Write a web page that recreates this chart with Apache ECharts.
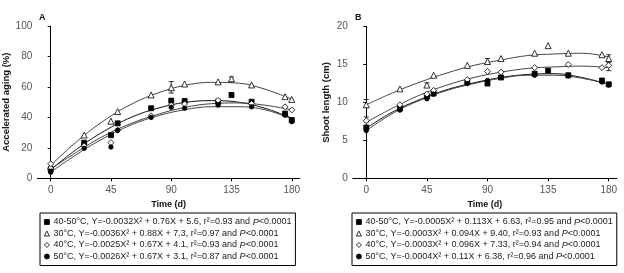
<!DOCTYPE html>
<html><head><meta charset="utf-8">
<script src="https://cdn.jsdelivr.net/npm/echarts@6/dist/echarts.min.js"></script>
<style>html,body{margin:0;padding:0;background:#fff}#c{width:624px;height:273px}</style>
</head><body><div id="c"></div>
<script>
// ---- data ----
const days = [0, 25, 45, 50, 75, 90, 100, 125, 135, 150, 175, 180];
const xTicks = [0, 45, 90, 135, 180];
const fitX = [0, 20, 40, 60, 80, 100, 120, 140, 160, 180];

// Panel A: Accelerated aging (%)
const aSquare   = [6, 23.4, 28.3, 36.1, 46, 51, 50.8, 50.3, 54.7, 50.3, 42.5, 38.3];
const aTriangle = [8, 28.4, 37.5, 43.8, 54.7, 59.5, 61.9, 63.3, 65.3, 61.3, 53.6, 51.8];
const aDiamond  = [9.5, 21.2, 23.4, 31.6, 41, 48, 48.8, 51.2, null, 49, 46.9, 44.9];
const aCircle   = [4, 19.7, 20.5, 31.5, 40, 46.6, 46, 48.1, null, 46.9, 41.4, 37.2];
const aFitSquare   = [5.6, 19.5, 31, 40, 46, 49.8, 51, 50, 46, 39.5];
const aFitTriangle = [8.5, 24.5, 38, 48.5, 56, 61, 63, 62.5, 58.5, 52];
const aFitDiamond  = [6, 17.5, 28, 36, 42, 46.5, 49, 49.5, 48, 45];
const aFitCircle   = [4, 16, 26.5, 35, 41, 45, 47, 47, 45, 39];
const aErrDay  = [90, 135, 135];
const aErrLow  = [56, 63.5, 53.2];
const aErrHigh = [63.5, 66.5, 56.2];
const aLegend = [
  '40-50°C, Y=-0.0032X² + 0.76X + 5.6, r²=0.93 and {i|P}<0.0001',
  '30°C, Y=-0.0036X² + 0.88X + 7.3, r²=0.97 and {i|P}<0.0001',
  '40°C, Y=-0.0025X² + 0.67X + 4.1, r²=0.93 and {i|P}<0.0001',
  '50°C, Y=-0.0026X² + 0.67X + 3.1, r²=0.87 and {i|P}<0.0001'
];

// Panel B: Shoot length (cm)
const bSquare   = [6.7, 9.2, 10.8, 11.2, 12.7, 12.5, 13.3, 13.8, 14.2, 13.6, 12.9, 12.4];
const bTriangle = [9.7, 11.8, 12.3, 13.6, 14.9, 15.4, 15.8, 16.5, 17.5, 16.5, 16.3, 15.8];
const bDiamond  = [7.6, 9.7, 11.1, 11.6, 13.0, 14.1, 14.0, 14.6, null, 15.0, 14.6, 14.9];
const bCircle   = [6.3, 9.0, 10.5, 11.1, 12.5, 12.9, 13.3, 13.6, null, 13.5, 12.7, 12.3];
const bFitSquare   = [6.6, 8.8, 10.4, 11.7, 12.6, 13.3, 13.7, 13.8, 13.3, 12.4];
const bFitTriangle = [9.7, 11.3, 12.7, 13.9, 14.9, 15.6, 16.2, 16.4, 16.5, 16.0];
const bFitDiamond  = [7.4, 9.3, 11.0, 12.3, 13.3, 14.0, 14.5, 14.7, 14.8, 14.6];
const bFitCircle   = [6.3, 8.6, 10.3, 11.6, 12.5, 13.2, 13.6, 13.6, 13.2, 12.4];
const bErrDay  = [0, 0, 45, 90, 180, 180];
const bErrLow  = [9.4, 7.4, 12.0, 15.1, 14.2, 15.5];
const bErrHigh = [10.4, 8.1, 12.6, 15.8, 15.3, 16.3];
const bLegend = [
  '40-50°C, Y=-0.0005X² + 0.113X + 6.63, r²=0.95 and {i|P}<0.0001',
  '30°C, Y=-0.0003X² + 0.094X + 9.40, r²=0.93 and {i|P}<0.0001',
  '40°C, Y=-0.0003X² + 0.096X + 7.33, r²=0.94 and {i|P}<0.0001',
  '50°C, Y=-0.0004X² + 0.11X + 6.38, r²=0.96 and {i|P}<0.0001'
];

// ---- build ----
const FONT = 'Liberation Sans, Arial, sans-serif';
const pair = (xs, ys) => xs.map((x, i) => [x, ys[i]]);
const symDefs = [
  {sym: 'rect', size: 5, fill: '#000'},
  {sym: 'triangle', size: 6, fill: '#fff'},
  {sym: 'diamond', size: 6, fill: '#fff'},
  {sym: 'circle', size: 4.5, fill: '#000'}
];

function panelSeries(p, idx, pts, fits, errD, errL, errH) {
  const s = [];
  fits.forEach((f, k) => s.push({
    type: 'line', xAxisIndex: idx, yAxisIndex: idx, data: pair(fitX, f),
    smooth: 0.4, symbol: 'none', silent: true, z: 2,
    lineStyle: {color: k === 0 ? '#111' : '#444', width: 1}
  }));
  s.push({
    type: 'custom', xAxisIndex: idx, yAxisIndex: idx, z: 3, silent: true,
    data: errD.map((d, i) => [d, errL[i], errH[i]]),
    renderItem: function (params, api) {
      const lo = api.coord([api.value(0), api.value(1)]);
      const hi = api.coord([api.value(0), api.value(2)]);
      const w = 2.5;
      const st = {stroke: '#000', lineWidth: 0.8, fill: null};
      return {type: 'group', children: [
        {type: 'line', shape: {x1: lo[0], y1: lo[1], x2: hi[0], y2: hi[1]}, style: st},
        {type: 'line', shape: {x1: lo[0] - w, y1: lo[1], x2: lo[0] + w, y2: lo[1]}, style: st},
        {type: 'line', shape: {x1: hi[0] - w, y1: hi[1], x2: hi[0] + w, y2: hi[1]}, style: st}
      ]};
    }
  });
  pts.forEach((v, k) => s.push({
    name: p + k, type: 'scatter', xAxisIndex: idx, yAxisIndex: idx,
    data: pair(days, v).filter(d => d[1] !== null),
    symbol: symDefs[k].sym, symbolSize: symDefs[k].size, z: 4,
    itemStyle: {color: symDefs[k].fill, borderColor: '#000', borderWidth: 0.8, opacity: 1}
  }));
  return s;
}

function legendFor(p, texts, left, idx) {
  return {
    left: left, top: 213, orient: 'vertical', selectedMode: false,
    borderColor: '#000', borderWidth: 1, padding: [4, 4, 4, 4],
    itemWidth: 5, itemHeight: 5, itemGap: 1.5,
    textStyle: {fontFamily: FONT, fontSize: 9, lineHeight: 10, color: '#222', padding: [0, 0, 0, -1],
      rich: {i: {fontFamily: FONT, fontSize: 9, lineHeight: 10, fontStyle: 'italic', color: '#222'}}},
    data: symDefs.map((d, k) => ({
      name: p + k, icon: d.sym,
      itemStyle: {color: d.fill, borderColor: '#000', borderWidth: 0.8}
    })),
    formatter: name => texts[+name.slice(1)]
  };
}

function xAx(idx) {
  return {
    gridIndex: idx, type: 'value', min: -10, max: 186,
    name: 'Time (d)', nameLocation: 'middle', nameGap: 18,
    nameTextStyle: {fontFamily: FONT, fontSize: 9, fontWeight: 'bold', color: '#111'},
    axisLine: {lineStyle: {color: '#000', width: 1}},
    axisTick: {show: true, inside: false, length: 3, customValues: xTicks, lineStyle: {color: '#000'}},
    axisLabel: {customValues: xTicks, margin: 7, fontFamily: FONT, fontSize: 10, color: '#555'},
    splitLine: {show: false}
  };
}
function yAx(idx, max, interval, name, gap) {
  return {
    gridIndex: idx, type: 'value', min: 0, max: max, interval: interval,
    name: name, nameLocation: 'middle', nameGap: gap, nameRotate: 90,
    nameTextStyle: {fontFamily: FONT, fontSize: 9.5, fontWeight: 'bold', color: '#111'},
    axisLine: {show: true, lineStyle: {color: '#000', width: 1}},
    axisTick: {show: true, inside: false, length: 3, lineStyle: {color: '#000'}},
    axisLabel: {margin: 5, fontFamily: FONT, fontSize: 10, color: '#555'},
    splitLine: {show: false}
  };
}

const option = {
  backgroundColor: '#fff',
  animation: false,
  grid: [
    {left: 37.3, top: 26, width: 262.5, height: 152.3},
    {left: 352.8, top: 26.7, width: 264, height: 151.6}
  ],
  xAxis: [xAx(0), xAx(1)],
  yAxis: [yAx(0, 100, 20, 'Accelerated aging (%)', 20), yAx(1, 20, 5, 'Shoot length (cm)', 21)],
  legend: [legendFor('A', aLegend, 40, 0), legendFor('B', bLegend, 352, 1)],
  graphic: [
    {type: 'text', left: 39, top: 13, style: {text: 'A', font: 'bold 9px ' + FONT, fill: '#111'}},
    {type: 'text', left: 355, top: 13, style: {text: 'B', font: 'bold 9px ' + FONT, fill: '#111'}}
  ],
  series: [].concat(
    panelSeries('A', 0, [aSquare, aTriangle, aDiamond, aCircle],
      [aFitSquare, aFitTriangle, aFitDiamond, aFitCircle], aErrDay, aErrLow, aErrHigh),
    panelSeries('B', 1, [bSquare, bTriangle, bDiamond, bCircle],
      [bFitSquare, bFitTriangle, bFitDiamond, bFitCircle], bErrDay, bErrLow, bErrHigh)
  )
};
const chart = echarts.init(document.getElementById('c'), null, {renderer: 'canvas'});
chart.setOption(option);
</script>
</body></html>
